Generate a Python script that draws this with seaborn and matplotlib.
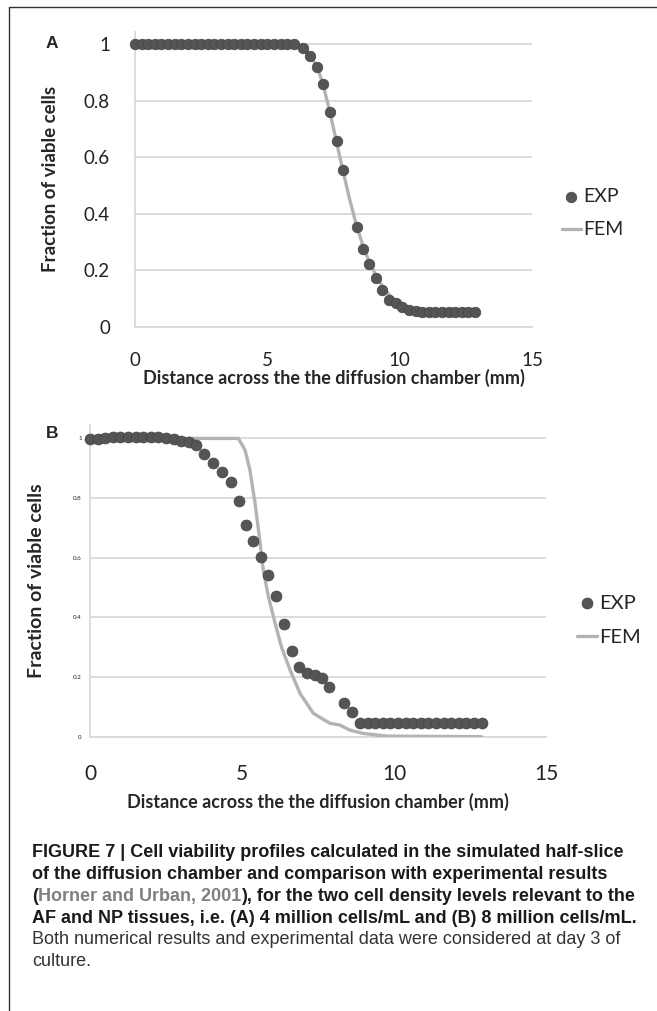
import matplotlib
matplotlib.use("Agg")
import matplotlib.pyplot as plt
from matplotlib.lines import Line2D
from matplotlib import font_manager
import seaborn as sns

# ---- Panel A: 4 million cells/mL ----
a_exp_x = [0.0, 0.25, 0.5, 0.75, 1.0, 1.25, 1.5, 1.75, 2.0, 2.25, 2.5, 2.75,
           3.0, 3.25, 3.5, 3.75, 4.0, 4.25, 4.5, 4.75, 5.0, 5.25, 5.5, 5.75,
           6.0, 6.34, 6.62, 6.87, 7.10, 7.35, 7.62, 7.87, 8.37, 8.63, 8.85,
           9.10, 9.35, 9.60, 9.85, 10.10, 10.35, 10.6, 10.85, 11.1, 11.35,
           11.6, 11.85, 12.1, 12.35, 12.6, 12.85]
a_exp_y = [1.0, 1.0, 1.0, 1.0, 1.0, 1.0, 1.0, 1.0, 1.0, 1.0, 1.0, 1.0,
           1.0, 1.0, 1.0, 1.0, 1.0, 1.0, 1.0, 1.0, 1.0, 1.0, 1.0, 1.0,
           1.0, 0.988, 0.960, 0.921, 0.858, 0.761, 0.658, 0.555, 0.354, 0.274, 0.221,
           0.171, 0.130, 0.095, 0.083, 0.071, 0.059, 0.054, 0.053, 0.053, 0.053,
           0.053, 0.053, 0.053, 0.053, 0.053, 0.053]
a_fem_x = [0.0, 6.0, 6.3, 6.6, 6.9, 7.1, 7.35, 7.6, 7.85, 8.1, 8.35, 8.6, 8.85,
           9.1, 9.35, 9.6, 9.85, 10.1, 10.35, 10.6, 11.0, 12.0, 12.85]
a_fem_y = [1.0, 1.0, 0.992, 0.965, 0.915, 0.86, 0.765, 0.66, 0.555, 0.455, 0.365,
           0.29, 0.23, 0.182, 0.143, 0.113, 0.092, 0.078, 0.068, 0.062, 0.057,
           0.054, 0.053]

# ---- Panel B: 8 million cells/mL ----
b_exp_x = [0.0, 0.25, 0.5, 0.75, 1.0, 1.25, 1.5, 1.75, 2.0, 2.25, 2.5, 2.75,
           3.0, 3.25, 3.5, 3.75, 4.05, 4.35, 4.65, 4.9, 5.13, 5.37, 5.61, 5.87,
           6.13, 6.38, 6.63, 6.89, 7.14, 7.4, 7.64, 7.87, 8.37, 8.62, 8.88,
           9.13, 9.38, 9.63, 9.88, 10.13, 10.38, 10.63, 10.88, 11.13, 11.38,
           11.63, 11.88, 12.13, 12.38, 12.63, 12.88]
b_exp_y = [0.997, 0.997, 1.002, 1.006, 1.006, 1.006, 1.006, 1.006, 1.006, 1.005,
           1.0, 0.997, 0.992, 0.988, 0.978, 0.948, 0.917, 0.888, 0.855, 0.79,
           0.709, 0.656, 0.603, 0.542, 0.473, 0.377, 0.287, 0.235, 0.215, 0.207,
           0.196, 0.166, 0.112, 0.084, 0.047, 0.045, 0.045, 0.045, 0.045, 0.045,
           0.045, 0.045, 0.045, 0.045, 0.045, 0.045, 0.045, 0.045, 0.045, 0.045,
           0.045]
b_fem_x = [0.0, 4.88, 5.1, 5.26, 5.43, 5.57, 5.7, 5.87, 6.09, 6.3, 6.58, 6.91,
           7.35, 7.89, 8.22, 8.55, 8.99, 9.76, 12.88]
b_fem_y = [1.0, 1.0, 0.961, 0.894, 0.782, 0.67, 0.559, 0.469, 0.38, 0.30, 0.224,
           0.145, 0.078, 0.045, 0.039, 0.022, 0.011, 0.002, 0.0]

x_ticks = [0, 5, 10, 15]
y_ticks = [0, 0.2, 0.4, 0.6, 0.8, 1]
y_ticklabels = ["0", "0.2", "0.4", "0.6", "0.8", "1"]

x_label = "Distance across the the diffusion chamber (mm)"
y_label = "Fraction of viable cells"

caption_lines = [
    [("FIGURE 7 | Cell viability profiles calculated in the simulated half-slice", "#1a1a1a", "bold")],
    [("of the diffusion chamber and comparison with experimental results", "#1a1a1a", "bold")],
    [("(", "#1a1a1a", "bold"), ("Horner and Urban, 2001", "#808080", "bold"),
     ("), for the two cell density levels relevant to the", "#1a1a1a", "bold")],
    [("AF and NP tissues, i.e. (A) 4 million cells/mL and (B) 8 million cells/mL.", "#1a1a1a", "bold")],
    [("Both numerical results and experimental data were considered at day 3 of", "#333333", "normal")],
    [("culture.", "#333333", "normal")],
]

sns.set_theme(style="white")
plt.rcParams["font.family"] = ["Lato", "DejaVu Sans"]

installed = {f.name for f in font_manager.fontManager.ttflist}
if "Liberation Sans Narrow" in installed:
    cap_family, cap_size = ["Liberation Sans Narrow", "DejaVu Sans"], 14.5
else:
    cap_family, cap_size = ["Liberation Sans", "DejaVu Sans"], 13

W, H = 657, 1011
fig = plt.figure(figsize=(W / 100, H / 100), dpi=100)

EXP_COLOR = "#555555"
EXP_EDGE = "#444444"
FEM_COLOR = "#b3b3b3"
GRID_COLOR = "#d9d9d9"


def px_axes(left, right, top, bottom):
    return fig.add_axes([left / W, 1 - bottom / H, (right - left) / W, (bottom - top) / H])


def style_axes(ax, ytick_size, ytick_pad, xtick_size, xtick_pad):
    ax.set_xlim(0, 15)
    ax.set_ylim(0, 1.045)
    ax.set_xticks(x_ticks)
    ax.set_xticklabels([str(t) for t in x_ticks])
    ax.set_yticks(y_ticks)
    ax.set_yticklabels(y_ticklabels)
    ax.grid(axis="y", color=GRID_COLOR, lw=1.3)
    ax.grid(axis="x", visible=False)
    for s in ["top", "right"]:
        ax.spines[s].set_visible(False)
    for s in ["left", "bottom"]:
        ax.spines[s].set_color(GRID_COLOR)
        ax.spines[s].set_linewidth(1.3)
    ax.tick_params(axis="y", length=0, labelsize=ytick_size, pad=ytick_pad, labelcolor="#222222")
    ax.tick_params(axis="x", length=0, labelsize=xtick_size, pad=xtick_pad, labelcolor="#222222")
    ax.set_facecolor("white")


def draw_panel(ax, ex, ey, fx, fy, msize):
    sns.lineplot(x=fx, y=fy, ax=ax, color=FEM_COLOR, lw=2.4, label="FEM",
                 zorder=3, sort=False)
    sns.scatterplot(x=ex, y=ey, ax=ax, color=EXP_COLOR, s=msize, edgecolor=EXP_EDGE,
                    linewidth=0.5, label="EXP", zorder=4, clip_on=False)
    h, l = ax.get_legend_handles_labels()
    order = [l.index("EXP"), l.index("FEM")]
    return [h[i] for i in order], [l[i] for i in order]


# Panel A
axA = px_axes(135, 532, 31.6, 326.7)
hA, lA = draw_panel(axA, a_exp_x, a_exp_y, a_fem_x, a_fem_y, 58)
style_axes(axA, 13.5, 18, 13.5, 18)
axA.set_xlabel(x_label, fontsize=13, fontweight="bold", labelpad=0)
axA.set_ylabel(y_label, fontsize=13.5, fontweight="bold", labelpad=18)
axA.legend(hA, lA, loc="center left", bbox_to_anchor=(1.05, 0.385), frameon=False,
           fontsize=14, handlelength=1.0, handletextpad=0.1, borderpad=0,
           labelspacing=0.85, markerscale=1.0)
fig.text(52 / W, 1 - 44 / H, "A", fontsize=12.5, fontweight="bold",
         family=["Liberation Sans", "DejaVu Sans"], ha="center", va="center")

# Panel B
axB = px_axes(90, 546, 425, 736.7)
hB, lB = draw_panel(axB, b_exp_x, b_exp_y, b_fem_x, b_fem_y, 62)
style_axes(axB, 4.5, 6, 15, 20)
axB.set_xlabel(x_label, fontsize=13, fontweight="bold", labelpad=6)
axB.set_ylabel(y_label, fontsize=14, fontweight="bold", labelpad=20)
axB.legend(hB, lB, loc="center left", bbox_to_anchor=(1.045, 0.374), frameon=False,
           fontsize=14.5, handlelength=1.0, handletextpad=0.1, borderpad=0,
           labelspacing=0.85, markerscale=1.0)
fig.text(52 / W, 1 - 433 / H, "B", fontsize=12.5, fontweight="bold",
         family=["Liberation Sans", "DejaVu Sans"], ha="center", va="center")

# Outer frame (left and top edges)
fig.add_artist(Line2D([9 / W, 9 / W], [0, 1 - 7 / H], transform=fig.transFigure,
                      color="#333333", lw=1.0))
fig.add_artist(Line2D([9 / W, 1], [1 - 7 / H, 1 - 7 / H], transform=fig.transFigure,
                      color="#333333", lw=1.0))

# Caption, laid out piece by piece so coloured citations sit inline
renderer = fig.canvas.get_renderer()
baselines = [857, 879, 901, 923, 944, 966]
for pieces, base in zip(caption_lines, baselines):
    x = 32 / W
    for txt, col, wt in pieces:
        t = fig.text(x, 1 - base / H, txt, color=col, fontweight=wt, fontsize=cap_size,
                     family=cap_family, ha="left", va="baseline")
        bb = t.get_window_extent(renderer=renderer)
        x += bb.width / fig.bbox.width

fig.savefig("out.png", dpi=100)
